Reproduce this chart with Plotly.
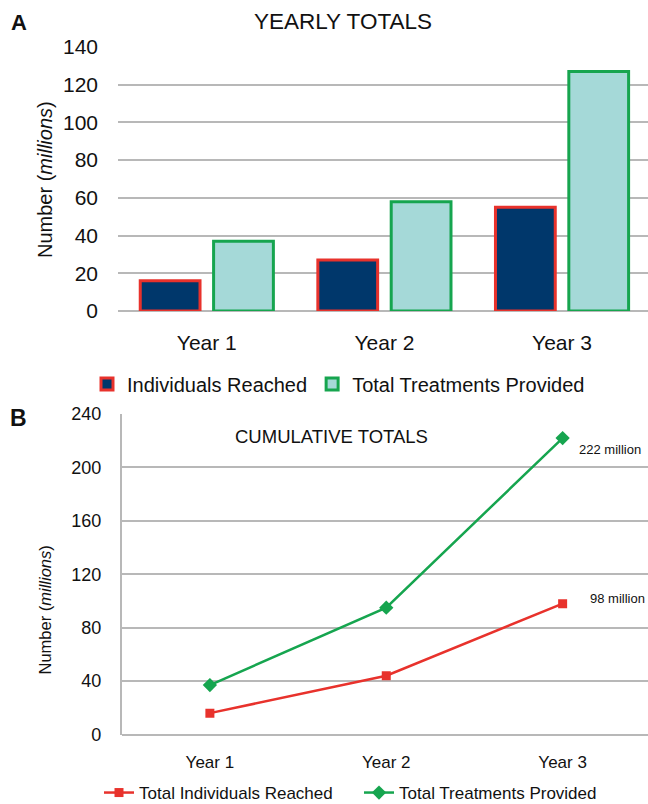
import plotly.graph_objects as go

# ---- data ----
years = ["Year 1", "Year 2", "Year 3"]
yearly_individuals = [16, 27, 55]
yearly_treatments = [37, 58, 127]
cum_individuals = [16, 44, 98]
cum_treatments = [37, 95, 222]
end_labels = ["222 million", "98 million"]
yA_ticks = [0, 20, 40, 60, 80, 100, 120, 140]
yB_ticks = [0, 40, 80, 120, 160, 200, 240]

FONT = "Liberation Sans, Arial, Helvetica, sans-serif"
NAVY = "#00376b"
TEAL = "#a5d9d8"
RED = "#e8322c"
GREEN = "#16a54f"
GRID = "#b8b8b8"
INK = "#111111"

W, H = 648, 804

fig = go.Figure()

fig.add_trace(go.Bar(
    x=years, y=yearly_individuals, name="Individuals Reached",
    marker=dict(color=NAVY, line=dict(color=RED, width=3)),
    xaxis="x", yaxis="y", legend="legend",
))
fig.add_trace(go.Bar(
    x=years, y=yearly_treatments, name="Total Treatments Provided",
    marker=dict(color=TEAL, line=dict(color=GREEN, width=3)),
    xaxis="x", yaxis="y", legend="legend",
))
fig.add_trace(go.Scatter(
    x=years, y=cum_individuals, name="Total Individuals Reached",
    mode="lines+markers", line=dict(color=RED, width=2.5),
    marker=dict(symbol="square", size=9, color=RED),
    xaxis="x2", yaxis="y2", legend="legend2",
))
fig.add_trace(go.Scatter(
    x=years, y=cum_treatments, name="Total Treatments Provided",
    mode="lines+markers", line=dict(color=GREEN, width=2.5),
    marker=dict(symbol="diamond", size=11, color=GREEN),
    xaxis="x2", yaxis="y2", legend="legend2",
))

def py(p):
    return 1 - p / H

def px(p):
    return p / W

fig.update_layout(
    width=W, height=H,
    margin=dict(l=0, r=0, t=0, b=0, autoexpand=False),
    paper_bgcolor="white", plot_bgcolor="white",
    font=dict(family=FONT, color=INK),
    barmode="group", bargap=0.174, bargroupgap=0.185,
    showlegend=True,
    xaxis=dict(
        domain=[px(118), 1.0], range=[-0.5, 2.484],
        type="category", showgrid=False, zeroline=False, showline=False,
        ticks="", tickfont=dict(size=21, family=FONT, color=INK), ticklabelstandoff=17,
        anchor="y",
    ),
    yaxis=dict(
        domain=[py(311), py(47)], range=[0, 140],
        tickvals=yA_ticks, showgrid=True, gridcolor=GRID, gridwidth=1.7,
        zeroline=True, zerolinecolor=GRID, zerolinewidth=1.7, showline=False,
        ticks="", tickfont=dict(size=21, family=FONT, color=INK), ticklabelstandoff=19,
        anchor="x",
    ),
    xaxis2=dict(
        domain=[px(121.7), 1.0], range=[-0.5, 2.484],
        type="category", showgrid=False, zeroline=False, showline=False,
        ticks="", tickfont=dict(size=17, family=FONT, color=INK), ticklabelstandoff=15,
        anchor="y2",
    ),
    yaxis2=dict(
        domain=[py(734.5), py(414)], range=[0, 240],
        tickvals=yB_ticks, showgrid=True, gridcolor=GRID, gridwidth=1.7,
        zeroline=True, zerolinecolor=GRID, zerolinewidth=1.7,
        showline=True, linecolor=GRID, linewidth=1.7,
        ticks="", tickfont=dict(size=18, family=FONT, color=INK), ticklabelstandoff=15,
        anchor="x2",
    ),
    legend=dict(
        orientation="h", x=px(87), y=py(384), xanchor="left", yanchor="middle",
        font=dict(size=20, family=FONT, color=INK),
        bgcolor="rgba(0,0,0,0)", itemwidth=30, traceorder="normal",
    ),
    legend2=dict(
        orientation="h", x=px(99), y=py(793), xanchor="left", yanchor="middle",
        font=dict(size=17, family=FONT, color=INK),
        bgcolor="rgba(0,0,0,0)", itemwidth=30, traceorder="normal",
        entrywidth=215, entrywidthmode="pixels",
    ),
)

NOTE_FONT = dict(size=13, family=FONT, color=INK)
annotations = [
    dict(text="<b>A</b>", x=px(19), y=py(23), xref="paper", yref="paper",
         showarrow=False, font=dict(size=22, family=FONT, color=INK),
         xanchor="center", yanchor="middle"),
    dict(text="YEARLY TOTALS", x=px(343), y=py(21), xref="paper", yref="paper",
         showarrow=False, font=dict(size=22.5, family=FONT, color=INK),
         xanchor="center", yanchor="middle"),
    dict(text="Number (<i>millions</i>)", x=px(45), y=py(180), xref="paper", yref="paper",
         showarrow=False, textangle=-90, font=dict(size=20, family=FONT, color=INK),
         xanchor="center", yanchor="middle"),
    dict(text="<b>B</b>", x=px(18), y=py(418), xref="paper", yref="paper",
         showarrow=False, font=dict(size=23, family=FONT, color=INK),
         xanchor="center", yanchor="middle"),
    dict(text="CUMULATIVE TOTALS", x=px(331), y=py(436), xref="paper", yref="paper",
         showarrow=False, font=dict(size=18.5, family=FONT, color=INK),
         xanchor="center", yanchor="middle"),
    dict(text="Number (<i>millions</i>)", x=px(44.5), y=py(610), xref="paper", yref="paper",
         showarrow=False, textangle=-90, font=dict(size=16.5, family=FONT, color=INK),
         xanchor="center", yanchor="middle"),
    dict(text=end_labels[0], x=years[2], y=cum_treatments[2], xref="x2", yref="y2",
         xshift=47, yshift=-11, showarrow=False, font=NOTE_FONT,
         xanchor="center", yanchor="middle"),
    dict(text=end_labels[1], x=years[2], y=cum_individuals[2], xref="x2", yref="y2",
         xshift=55, yshift=5, showarrow=False, font=NOTE_FONT,
         xanchor="center", yanchor="middle"),
]
fig.update_layout(annotations=annotations)

fig.write_html("out.html")
